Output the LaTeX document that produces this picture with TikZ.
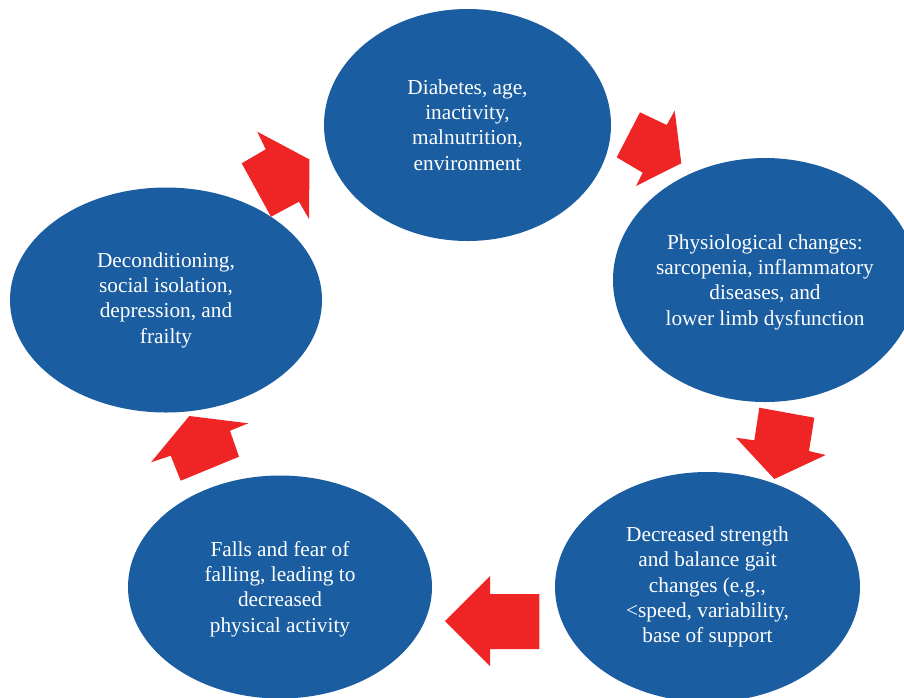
\documentclass[tikz,border=0pt]{standalone}
\usepackage{fontspec}
\setmainfont{Liberation Serif}
\usetikzlibrary{shapes.geometric}
\definecolor{blobblue}{RGB}{26,93,160}
\definecolor{arrowred}{RGB}{238,37,36}
\tikzset{
  blob/.style={ellipse, fill=blobblue, draw=none, inner sep=0pt},
  txt/.style={text=white, align=center, inner sep=0pt,
    font=\fontsize{21.3}{25.3}\selectfont},
  blockarrow/.style={fill=arrowred, draw=none}
}
\begin{document}
\begin{tikzpicture}[x=1pt,y=-1pt]
\useasboundingbox (0,0) rectangle (904,697);
\clip (0,0) rectangle (904,697);
% ellipses
\node[blob, minimum width=287pt, minimum height=232pt] (top) at (467.5,125) {};
\node[blob, minimum width=304pt, minimum height=244pt] (right) at (765,280) {};
\node[blob, minimum width=305pt, minimum height=230pt] (bright) at (707.5,587) {};
\node[blob, minimum width=304pt, minimum height=223pt] (bleft) at (280,587) {};
\node[blob, minimum width=312pt, minimum height=225pt] (left) at (166,300) {};
% texts
\node[txt] (ttop) at (top) {Diabetes, age,\\inactivity,\\malnutrition,\\environment};
\node[txt] (tright) at ([yshift=-2]right) {Physiological changes:\\sarcopenia, inflammatory\\diseases, and\\lower limb dysfunction};
\node[txt] (tbright) at (bright) {Decreased strength\\and balance gait\\changes (e.g.,\\<speed, variability,\\base of support};
\node[txt] (tbleft) at ([yshift=-2]bleft) {Falls and fear of\\falling, leading to\\decreased\\physical activity};
\node[txt] (tleft) at (left) {Deconditioning,\\social isolation,\\depression, and\\frailty};
% block arrows
\fill[blockarrow] (241.7,163.3) -- (265.7,149.3) -- (257.3,131.7) -- (309.5,159.5) -- (309,219) -- (299,201.7) -- (271,216.7) -- cycle;
\fill[blockarrow] (640,112.3) -- (666.7,125) -- (674.7,110.7) -- (681.3,163.3) -- (636,186) -- (642.7,172.7) -- (616.7,157.3) -- cycle;
\fill[blockarrow] (814.3,417.7) -- (809,451) -- (825.7,455) -- (774.3,479) -- (736,437.7) -- (754.3,440.3) -- (759.3,407.7) -- cycle;
\fill[blockarrow] (539.3,594) -- (490,594) -- (490,576) -- (445,621) -- (490,666) -- (490,649) -- (539.3,649) -- cycle;
\fill[blockarrow] (239,456.7) -- (230,430.7) -- (248.3,423.3) -- (189.3,416) -- (151,462.3) -- (170.7,455.7) -- (180.7,480.7) -- cycle;
\end{tikzpicture}
\end{document}
